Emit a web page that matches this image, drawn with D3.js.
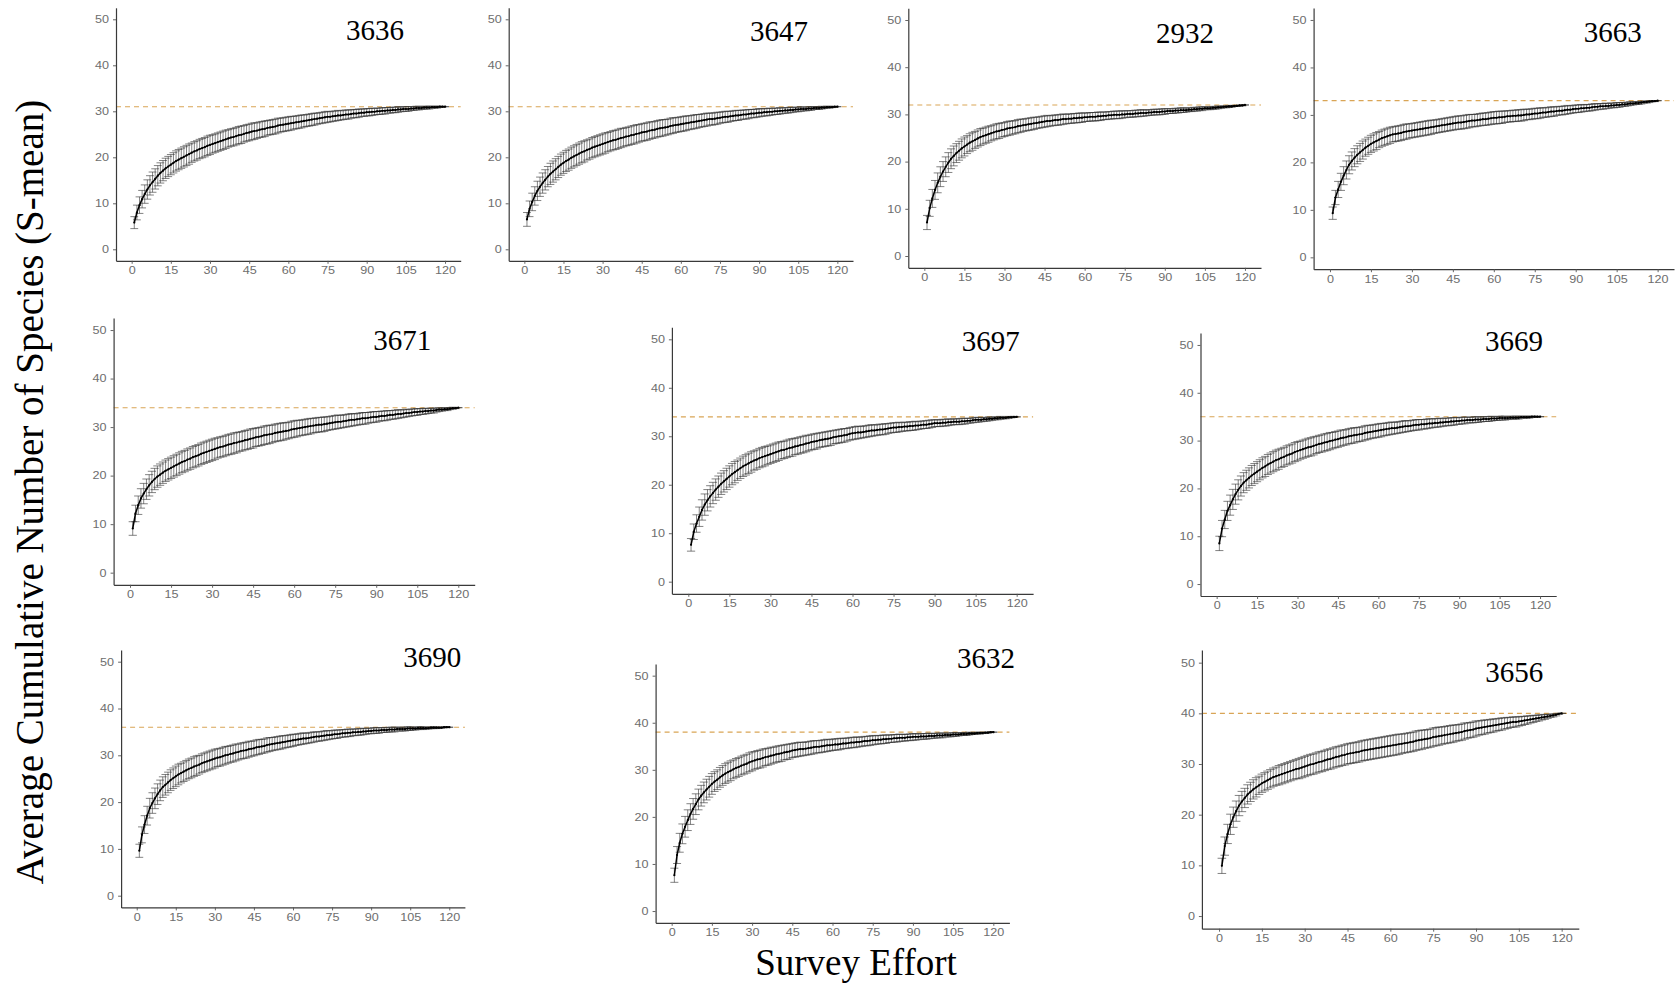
<!DOCTYPE html>
<html>
<head>
<meta charset="utf-8">
<script src="https://cdn.jsdelivr.net/npm/d3@7"></script>
<style>
  html, body { margin: 0; padding: 0; background: #fff; }
  svg { display: block; }
</style>
</head>
<body>
<svg id="chart" width="1675" height="986"></svg>
<script>
// ---------------- DATA ----------------
const sites = ["3636", "3647", "2932", "3663", "3671", "3697", "3669", "3690", "3632", "3656"];
const asymptote = [31, 31, 32, 33, 34, 34, 35, 36, 38, 40];
const effort = d3.range(1, 121);              // survey effort 1..120
const xTicks = [0, 15, 30, 45, 60, 75, 90, 105, 120];
const yTicks = [0, 10, 20, 30, 40, 50];

const mean3636 = [5.8,8.0,9.6,10.9,12.0,13.0,13.9,14.6,15.3,16.0,
16.6,17.1,17.6,18.0,18.4,18.8,19.2,19.5,19.8,20.1,
20.4,20.7,21.0,21.3,21.5,21.8,22.0,22.2,22.5,22.7,
22.9,23.1,23.3,23.5,23.7,23.9,24.1,24.3,24.4,24.6,
24.8,24.9,25.1,25.3,25.4,25.6,25.7,25.8,26.0,26.1,
26.2,26.4,26.5,26.6,26.7,26.9,27.0,27.1,27.2,27.3,
27.4,27.5,27.6,27.7,27.8,27.9,28.0,28.1,28.2,28.3,
28.4,28.5,28.6,28.7,28.8,28.8,28.9,29.0,29.1,29.1,
29.2,29.3,29.3,29.4,29.5,29.5,29.6,29.7,29.7,29.8,
29.8,29.9,29.9,30.0,30.0,30.1,30.1,30.2,30.2,30.3,
30.3,30.4,30.4,30.5,30.5,30.5,30.6,30.6,30.7,30.7,
30.7,30.8,30.8,30.8,30.9,30.9,30.9,31.0,31.0,31.0];
const sd3636 = [1.3,1.6,1.8,1.9,2.0,2.1,2.1,2.2,2.2,2.2,
2.2,2.2,2.2,2.2,2.2,2.2,2.2,2.2,2.2,2.2,
2.2,2.2,2.1,2.1,2.1,2.1,2.1,2.1,2.1,2.1,
2.0,2.0,2.0,2.0,2.0,2.0,1.9,1.9,1.9,1.9,
1.9,1.9,1.8,1.8,1.8,1.8,1.8,1.7,1.7,1.7,
1.7,1.6,1.6,1.6,1.6,1.6,1.5,1.5,1.5,1.5,
1.5,1.4,1.4,1.4,1.4,1.3,1.3,1.3,1.3,1.3,
1.2,1.2,1.2,1.2,1.2,1.1,1.1,1.1,1.1,1.0,
1.0,1.0,1.0,0.9,0.9,0.9,0.9,0.8,0.8,0.8,
0.8,0.8,0.7,0.7,0.7,0.7,0.7,0.6,0.6,0.6,
0.6,0.6,0.5,0.5,0.5,0.5,0.4,0.4,0.4,0.4,
0.3,0.3,0.3,0.3,0.2,0.2,0.2,0.1,0.1,0.0];

const mean3647 = [6.5,8.8,10.3,11.6,12.7,13.6,14.4,15.1,15.8,16.4,
16.9,17.4,17.9,18.4,18.8,19.2,19.5,19.9,20.2,20.5,
20.8,21.1,21.3,21.6,21.8,22.1,22.3,22.5,22.7,22.9,
23.1,23.3,23.5,23.7,23.8,24.0,24.2,24.3,24.5,24.6,
24.8,24.9,25.1,25.2,25.4,25.5,25.6,25.8,25.9,26.0,
26.2,26.3,26.4,26.5,26.6,26.8,26.9,27.0,27.1,27.2,
27.3,27.4,27.5,27.6,27.7,27.8,27.9,28.0,28.1,28.2,
28.3,28.3,28.4,28.5,28.6,28.7,28.8,28.8,28.9,29.0,
29.1,29.1,29.2,29.3,29.3,29.4,29.5,29.5,29.6,29.7,
29.7,29.8,29.8,29.9,29.9,30.0,30.0,30.1,30.1,30.2,
30.2,30.3,30.3,30.4,30.4,30.5,30.5,30.5,30.6,30.6,
30.7,30.7,30.7,30.8,30.8,30.9,30.9,30.9,31.0,31.0];
const sd3647 = [1.5,1.7,1.9,2.0,2.1,2.1,2.2,2.2,2.2,2.3,
2.3,2.3,2.3,2.3,2.3,2.3,2.3,2.3,2.3,2.3,
2.3,2.3,2.3,2.2,2.2,2.2,2.2,2.2,2.2,2.2,
2.2,2.1,2.1,2.1,2.1,2.1,2.1,2.0,2.0,2.0,
2.0,2.0,2.0,1.9,1.9,1.9,1.9,1.9,1.8,1.8,
1.8,1.8,1.8,1.7,1.7,1.7,1.7,1.6,1.6,1.6,
1.6,1.6,1.5,1.5,1.5,1.5,1.4,1.4,1.4,1.4,
1.3,1.3,1.3,1.3,1.2,1.2,1.2,1.2,1.1,1.1,
1.1,1.1,1.0,1.0,1.0,1.0,0.9,0.9,0.9,0.9,
0.8,0.8,0.8,0.8,0.7,0.7,0.7,0.7,0.6,0.6,
0.6,0.6,0.5,0.5,0.5,0.5,0.4,0.4,0.4,0.4,
0.3,0.3,0.3,0.3,0.2,0.2,0.2,0.1,0.1,0.0];

const mean2932 = [7.1,10.1,12.2,14.0,15.5,16.8,17.9,18.9,19.8,20.6,
21.2,21.8,22.3,22.8,23.2,23.6,24.0,24.3,24.6,24.9,
25.2,25.4,25.6,25.8,26.0,26.2,26.4,26.5,26.7,26.8,
27.0,27.1,27.2,27.3,27.5,27.6,27.7,27.8,27.9,28.0,
28.1,28.2,28.3,28.4,28.5,28.6,28.6,28.7,28.8,28.8,
28.9,29.0,29.0,29.1,29.1,29.2,29.2,29.3,29.3,29.4,
29.4,29.5,29.5,29.5,29.6,29.6,29.7,29.7,29.8,29.8,
29.9,29.9,29.9,30.0,30.0,30.1,30.1,30.1,30.2,30.2,
30.3,30.3,30.3,30.4,30.4,30.5,30.5,30.5,30.6,30.6,
30.7,30.7,30.7,30.8,30.8,30.9,30.9,30.9,31.0,31.0,
31.1,31.1,31.2,31.2,31.3,31.3,31.3,31.4,31.4,31.5,
31.5,31.6,31.6,31.7,31.7,31.8,31.8,31.9,31.9,32.0];
const sd2932 = [1.5,1.7,1.9,2.0,2.1,2.1,2.1,2.1,2.1,2.1,
2.1,2.0,2.0,2.0,2.0,1.9,1.9,1.9,1.8,1.8,
1.8,1.7,1.7,1.7,1.6,1.6,1.6,1.6,1.5,1.5,
1.5,1.5,1.4,1.4,1.4,1.4,1.3,1.3,1.3,1.3,
1.3,1.2,1.2,1.2,1.2,1.2,1.1,1.1,1.1,1.1,
1.1,1.1,1.0,1.0,1.0,1.0,1.0,1.0,1.0,0.9,
0.9,0.9,0.9,0.9,0.9,0.9,0.8,0.8,0.8,0.8,
0.8,0.8,0.8,0.8,0.7,0.7,0.7,0.7,0.7,0.7,
0.7,0.7,0.6,0.6,0.6,0.6,0.6,0.6,0.6,0.6,
0.5,0.5,0.5,0.5,0.5,0.5,0.5,0.4,0.4,0.4,
0.4,0.4,0.4,0.4,0.3,0.3,0.3,0.3,0.3,0.3,
0.2,0.2,0.2,0.2,0.2,0.1,0.1,0.1,0.1,0.0];

const mean3663 = [9.3,12.6,14.3,15.9,17.2,18.4,19.5,20.3,21.0,21.6,
22.1,22.6,23.1,23.5,23.9,24.2,24.5,24.8,25.1,25.3,
25.5,25.7,25.9,26.0,26.1,26.2,26.4,26.5,26.6,26.7,
26.8,26.9,27.0,27.1,27.2,27.3,27.4,27.5,27.6,27.7,
27.8,27.9,28.0,28.1,28.2,28.3,28.4,28.4,28.5,28.6,
28.7,28.8,28.8,28.9,29.0,29.1,29.1,29.2,29.3,29.4,
29.4,29.5,29.5,29.6,29.7,29.7,29.8,29.8,29.9,29.9,
30.0,30.1,30.1,30.2,30.3,30.3,30.4,30.5,30.5,30.6,
30.7,30.7,30.8,30.9,30.9,31.0,31.1,31.1,31.2,31.3,
31.3,31.4,31.4,31.5,31.5,31.6,31.7,31.7,31.8,31.8,
31.9,31.9,32.0,32.0,32.1,32.1,32.2,32.2,32.3,32.4,
32.4,32.5,32.5,32.6,32.7,32.7,32.8,32.9,32.9,33.0];
const sd3663 = [1.3,1.5,1.7,1.8,1.9,1.9,1.9,1.9,1.9,1.9,
1.9,1.9,1.8,1.8,1.8,1.8,1.8,1.7,1.7,1.7,
1.7,1.7,1.6,1.6,1.6,1.6,1.6,1.6,1.5,1.5,
1.5,1.5,1.5,1.5,1.5,1.5,1.5,1.4,1.4,1.4,
1.4,1.4,1.4,1.4,1.4,1.4,1.4,1.4,1.4,1.4,
1.4,1.3,1.3,1.3,1.3,1.3,1.3,1.3,1.3,1.3,
1.3,1.3,1.3,1.2,1.2,1.2,1.2,1.2,1.2,1.2,
1.2,1.1,1.1,1.1,1.1,1.1,1.1,1.0,1.0,1.0,
1.0,1.0,0.9,0.9,0.9,0.9,0.9,0.8,0.8,0.8,
0.8,0.8,0.7,0.7,0.7,0.7,0.7,0.6,0.6,0.6,
0.6,0.5,0.5,0.5,0.5,0.5,0.4,0.4,0.4,0.4,
0.3,0.3,0.3,0.3,0.2,0.2,0.2,0.1,0.1,0.0];

const mean3671 = [9.1,12.2,13.9,15.3,16.3,17.2,18.0,18.7,19.3,19.8,
20.2,20.6,21.0,21.3,21.6,21.9,22.2,22.5,22.8,23.0,
23.3,23.5,23.8,24.0,24.2,24.5,24.7,24.9,25.1,25.3,
25.5,25.7,25.9,26.0,26.2,26.4,26.5,26.7,26.8,27.0,
27.1,27.3,27.4,27.6,27.7,27.9,28.0,28.1,28.3,28.4,
28.5,28.6,28.8,28.9,29.0,29.1,29.2,29.3,29.5,29.6,
29.7,29.8,29.9,30.0,30.1,30.2,30.3,30.4,30.5,30.5,
30.6,30.7,30.8,30.9,31.0,31.1,31.1,31.2,31.3,31.4,
31.5,31.5,31.6,31.7,31.8,31.8,31.9,32.0,32.1,32.1,
32.2,32.3,32.3,32.4,32.5,32.5,32.6,32.7,32.7,32.8,
32.9,32.9,33.0,33.1,33.1,33.2,33.2,33.3,33.3,33.4,
33.4,33.5,33.6,33.6,33.7,33.7,33.8,33.9,33.9,34.0];
const sd3671 = [1.4,1.7,1.9,2.0,2.1,2.1,2.2,2.2,2.2,2.2,
2.2,2.2,2.2,2.2,2.2,2.2,2.2,2.2,2.2,2.2,
2.2,2.2,2.2,2.2,2.2,2.2,2.2,2.2,2.2,2.2,
2.2,2.1,2.1,2.1,2.1,2.1,2.1,2.1,2.1,2.0,
2.0,2.0,2.0,2.0,2.0,1.9,1.9,1.9,1.9,1.9,
1.9,1.8,1.8,1.8,1.8,1.8,1.7,1.7,1.7,1.7,
1.7,1.6,1.6,1.6,1.6,1.6,1.5,1.5,1.5,1.5,
1.5,1.4,1.4,1.4,1.4,1.4,1.3,1.3,1.3,1.3,
1.3,1.2,1.2,1.2,1.2,1.2,1.1,1.1,1.1,1.1,
1.0,1.0,1.0,1.0,0.9,0.9,0.9,0.9,0.8,0.8,
0.8,0.7,0.7,0.7,0.7,0.6,0.6,0.6,0.5,0.5,
0.5,0.4,0.4,0.3,0.3,0.3,0.2,0.2,0.1,0.0];

const mean3697 = [7.6,10.3,12.0,13.4,14.8,15.9,16.8,17.6,18.3,19.0,
19.6,20.2,20.7,21.2,21.7,22.2,22.6,23.0,23.4,23.8,
24.1,24.4,24.7,25.0,25.2,25.5,25.7,25.9,26.1,26.3,
26.5,26.7,26.9,27.1,27.2,27.4,27.6,27.7,27.9,28.0,
28.2,28.3,28.5,28.6,28.8,28.9,29.0,29.2,29.3,29.4,
29.5,29.6,29.8,29.9,30.0,30.1,30.2,30.3,30.5,30.6,
30.7,30.8,30.8,30.9,31.0,31.1,31.2,31.2,31.3,31.4,
31.4,31.5,31.6,31.7,31.8,31.8,31.9,31.9,32.0,32.0,
32.1,32.1,32.2,32.2,32.3,32.4,32.4,32.5,32.6,32.7,
32.7,32.7,32.8,32.8,32.9,32.9,33.0,33.0,33.0,33.1,
33.1,33.2,33.2,33.3,33.4,33.4,33.4,33.5,33.5,33.6,
33.6,33.7,33.7,33.8,33.8,33.8,33.9,33.9,34.0,34.0];
const sd3697 = [1.3,1.6,1.8,2.0,2.1,2.2,2.2,2.2,2.2,2.2,
2.2,2.2,2.2,2.2,2.2,2.2,2.2,2.1,2.1,2.1,
2.1,2.1,2.1,2.0,2.0,2.0,2.0,2.0,1.9,1.9,
1.9,1.9,1.9,1.8,1.8,1.8,1.8,1.8,1.7,1.7,
1.7,1.7,1.7,1.6,1.6,1.6,1.6,1.5,1.5,1.5,
1.5,1.5,1.4,1.4,1.4,1.4,1.4,1.3,1.3,1.3,
1.3,1.3,1.2,1.2,1.2,1.2,1.2,1.1,1.1,1.1,
1.1,1.1,1.0,1.0,1.0,1.0,1.0,0.9,0.9,0.9,
0.9,0.9,0.9,0.8,0.8,0.8,0.8,0.8,0.8,0.7,
0.7,0.7,0.7,0.7,0.7,0.6,0.6,0.6,0.6,0.6,
0.6,0.5,0.5,0.5,0.5,0.5,0.4,0.4,0.4,0.4,
0.3,0.3,0.3,0.3,0.2,0.2,0.2,0.1,0.1,0.0];

const mean3669 = [8.5,11.6,13.5,15.3,16.5,17.7,18.8,19.7,20.5,21.2,
21.7,22.2,22.7,23.1,23.5,23.9,24.3,24.6,25.0,25.3,
25.6,25.9,26.1,26.4,26.6,26.9,27.1,27.3,27.6,27.8,
28.0,28.2,28.4,28.6,28.7,28.9,29.1,29.3,29.4,29.6,
29.7,29.9,30.0,30.2,30.3,30.5,30.6,30.7,30.9,31.0,
31.1,31.2,31.3,31.4,31.6,31.7,31.8,31.9,32.0,32.1,
32.2,32.3,32.4,32.5,32.6,32.6,32.7,32.8,32.9,33.0,
33.0,33.1,33.2,33.3,33.3,33.4,33.4,33.5,33.6,33.6,
33.7,33.7,33.8,33.8,33.9,33.9,34.0,34.0,34.1,34.1,
34.2,34.2,34.3,34.3,34.3,34.4,34.4,34.4,34.5,34.5,
34.5,34.6,34.6,34.6,34.7,34.7,34.7,34.7,34.8,34.8,
34.8,34.8,34.9,34.9,34.9,34.9,35.0,35.0,35.0,35.0];
const sd3669 = [1.5,1.7,1.9,2.0,2.1,2.1,2.1,2.1,2.1,2.1,
2.1,2.1,2.1,2.1,2.1,2.1,2.1,2.1,2.1,2.1,
2.1,2.1,2.1,2.0,2.0,2.0,2.0,2.0,2.0,2.0,
1.9,1.9,1.9,1.9,1.9,1.9,1.8,1.8,1.8,1.8,
1.8,1.8,1.7,1.7,1.7,1.7,1.6,1.6,1.6,1.6,
1.6,1.5,1.5,1.5,1.5,1.5,1.4,1.4,1.4,1.4,
1.4,1.3,1.3,1.3,1.3,1.2,1.2,1.2,1.2,1.2,
1.1,1.1,1.1,1.1,1.1,1.0,1.0,1.0,1.0,0.9,
0.9,0.9,0.9,0.8,0.8,0.8,0.8,0.8,0.7,0.7,
0.7,0.7,0.6,0.6,0.6,0.6,0.6,0.5,0.5,0.5,
0.5,0.5,0.4,0.4,0.4,0.4,0.4,0.3,0.3,0.3,
0.3,0.3,0.2,0.2,0.2,0.2,0.1,0.1,0.1,0.0];

const mean3690 = [9.6,13.0,15.2,17.1,18.7,19.8,20.8,21.7,22.5,23.2,
23.7,24.2,24.7,25.1,25.5,25.9,26.2,26.5,26.8,27.1,
27.3,27.6,27.8,28.0,28.3,28.5,28.7,28.9,29.1,29.3,
29.5,29.6,29.8,30.0,30.1,30.3,30.4,30.6,30.7,30.9,
31.0,31.1,31.3,31.4,31.5,31.7,31.8,31.9,32.0,32.2,
32.3,32.4,32.5,32.6,32.7,32.8,32.9,33.0,33.1,33.2,
33.3,33.4,33.5,33.6,33.6,33.7,33.8,33.9,34.0,34.0,
34.1,34.2,34.3,34.3,34.4,34.5,34.5,34.6,34.7,34.7,
34.8,34.8,34.9,34.9,35.0,35.0,35.1,35.1,35.2,35.2,
35.3,35.3,35.3,35.4,35.4,35.4,35.5,35.5,35.5,35.6,
35.6,35.6,35.6,35.7,35.7,35.7,35.7,35.8,35.8,35.8,
35.8,35.8,35.9,35.9,35.9,35.9,35.9,36.0,36.0,36.0];
const sd3690 = [1.4,1.7,1.9,2.0,2.1,2.2,2.2,2.2,2.2,2.2,
2.2,2.2,2.2,2.2,2.2,2.2,2.1,2.1,2.1,2.1,
2.1,2.1,2.1,2.0,2.0,2.0,2.0,2.0,2.0,2.0,
1.9,1.9,1.9,1.9,1.8,1.8,1.8,1.8,1.7,1.7,
1.7,1.7,1.7,1.6,1.6,1.6,1.6,1.5,1.5,1.5,
1.5,1.4,1.4,1.4,1.4,1.4,1.3,1.3,1.3,1.3,
1.2,1.2,1.2,1.2,1.1,1.1,1.1,1.1,1.0,1.0,
1.0,1.0,1.0,0.9,0.9,0.9,0.9,0.8,0.8,0.8,
0.8,0.8,0.7,0.7,0.7,0.7,0.7,0.6,0.6,0.6,
0.6,0.6,0.6,0.5,0.5,0.5,0.5,0.5,0.5,0.4,
0.4,0.4,0.4,0.4,0.4,0.3,0.3,0.3,0.3,0.3,
0.2,0.2,0.2,0.2,0.2,0.1,0.1,0.1,0.1,0.0];

const mean3632 = [7.6,11.9,14.5,16.4,17.9,19.3,20.6,21.7,22.7,23.7,
24.5,25.2,25.8,26.4,27.0,27.5,27.9,28.4,28.8,29.2,
29.5,29.8,30.1,30.4,30.6,30.9,31.1,31.3,31.6,31.8,
32.0,32.2,32.3,32.5,32.7,32.8,33.0,33.1,33.3,33.4,
33.5,33.7,33.8,33.9,34.1,34.2,34.3,34.4,34.4,34.5,
34.6,34.7,34.8,34.9,34.9,35.0,35.1,35.2,35.2,35.3,
35.4,35.4,35.5,35.6,35.6,35.7,35.8,35.8,35.9,35.9,
36.0,36.1,36.1,36.2,36.3,36.3,36.4,36.4,36.5,36.5,
36.6,36.6,36.7,36.7,36.8,36.8,36.8,36.9,36.9,37.0,
37.0,37.0,37.1,37.1,37.1,37.2,37.2,37.2,37.3,37.3,
37.3,37.4,37.4,37.4,37.5,37.5,37.5,37.6,37.6,37.6,
37.7,37.7,37.7,37.8,37.8,37.8,37.9,37.9,38.0,38.0];
const sd3632 = [1.5,1.8,2.0,2.1,2.2,2.2,2.2,2.2,2.2,2.2,
2.2,2.2,2.2,2.2,2.2,2.1,2.1,2.1,2.1,2.1,
2.1,2.1,2.0,2.0,2.0,2.0,2.0,2.0,2.0,2.0,
1.9,1.9,1.9,1.9,1.8,1.8,1.8,1.7,1.7,1.7,
1.7,1.6,1.6,1.6,1.5,1.5,1.5,1.5,1.4,1.4,
1.4,1.4,1.4,1.3,1.3,1.3,1.3,1.3,1.2,1.2,
1.2,1.2,1.2,1.1,1.1,1.1,1.1,1.1,1.1,1.0,
1.0,1.0,1.0,1.0,1.0,0.9,0.9,0.9,0.9,0.9,
0.8,0.8,0.8,0.8,0.8,0.7,0.7,0.7,0.7,0.7,
0.7,0.6,0.6,0.6,0.6,0.6,0.5,0.5,0.5,0.5,
0.5,0.4,0.4,0.4,0.4,0.4,0.3,0.3,0.3,0.3,
0.3,0.2,0.2,0.2,0.2,0.1,0.1,0.1,0.1,0.0];

const mean3656 = [9.9,13.8,16.2,18.1,19.5,20.7,21.8,22.6,23.3,24.0,
24.5,25.0,25.4,25.8,26.2,26.5,26.8,27.1,27.4,27.6,
27.8,28.0,28.2,28.4,28.6,28.8,29.0,29.1,29.3,29.5,
29.7,29.9,30.0,30.2,30.4,30.5,30.7,30.9,31.0,31.2,
31.4,31.5,31.7,31.8,32.0,32.1,32.2,32.3,32.4,32.6,
32.7,32.8,32.9,33.0,33.1,33.2,33.3,33.4,33.5,33.6,
33.7,33.8,33.9,34.0,34.1,34.2,34.3,34.4,34.6,34.7,
34.8,34.9,35.0,35.1,35.3,35.4,35.5,35.6,35.7,35.8,
35.9,36.0,36.1,36.2,36.3,36.5,36.6,36.7,36.8,37.0,
37.1,37.2,37.3,37.4,37.5,37.6,37.7,37.8,37.9,38.0,
38.1,38.2,38.3,38.3,38.4,38.5,38.6,38.7,38.8,38.9,
39.0,39.1,39.2,39.3,39.4,39.5,39.6,39.7,39.9,40.0];
const sd3656 = [1.5,1.8,1.9,2.0,2.0,2.0,2.0,2.0,1.9,1.9,
1.9,1.9,1.9,1.8,1.8,1.8,1.8,1.8,1.8,1.8,
1.9,1.9,1.9,1.9,1.9,1.9,1.9,2.0,2.0,2.0,
2.0,2.0,2.0,2.0,2.0,2.0,2.0,2.0,2.0,2.0,
2.0,2.0,2.0,2.0,2.0,2.0,2.0,2.0,2.0,2.0,
2.0,2.0,2.0,2.0,2.0,2.0,2.0,2.0,2.0,2.0,
2.0,2.0,2.0,1.9,1.9,1.9,1.9,1.9,1.9,1.9,
1.9,1.8,1.8,1.8,1.8,1.8,1.8,1.7,1.7,1.7,
1.7,1.7,1.6,1.6,1.6,1.6,1.5,1.5,1.5,1.5,
1.4,1.4,1.4,1.3,1.3,1.3,1.2,1.2,1.2,1.1,
1.1,1.0,1.0,1.0,0.9,0.9,0.8,0.8,0.7,0.7,
0.6,0.6,0.5,0.5,0.4,0.3,0.3,0.2,0.1,0.0];

const means = [mean3636, mean3647, mean2932, mean3663, mean3671, mean3697, mean3669, mean3690, mean3632, mean3656];
const sds   = [sd3636, sd3647, sd2932, sd3663, sd3671, sd3697, sd3669, sd3690, sd3632, sd3656];

// ---------------- LAYOUT (pixel frames of each panel) ----------------
const layout = [
  {l: 116.0,  t: 7.8,   r: 460.7,  b: 260.8, tx: 375,    ty: 40},
  {l: 508.7,  t: 7.8,   r: 853.0,  b: 260.8, tx: 779,    ty: 40.7},
  {l: 908.3,  t: 8.2,   r: 1261.0, b: 267.8, tx: 1185,   ty: 42.7},
  {l: 1313.6, t: 8.1,   r: 1674.0, b: 269.2, tx: 1612.7, ty: 42.3},
  {l: 113.6,  t: 317.9, r: 474.7,  b: 584.8, tx: 402.3,  ty: 350},
  {l: 671.9,  t: 327.2, r: 1033.1, b: 593.8, tx: 990.7,  ty: 350.7},
  {l: 1200.5, t: 333.0, r: 1556.2, b: 596.0, tx: 1514,   ty: 350.7},
  {l: 121.1,  t: 650.0, r: 464.9,  b: 907.4, tx: 432.3,  ty: 667.3},
  {l: 655.6,  t: 663.9, r: 1009.4, b: 922.8, tx: 986,    ty: 668.3},
  {l: 1201.9, t: 650.0, r: 1578.8, b: 928.7, tx: 1514.3, ty: 681.7}
];

const xDomain = [-6, 126];
const yDomain = [-2.5, 52.5];
const capHalf = 1.5;          // error bar cap half width (effort units)
const tickStretch = 1.2;      // source panels were stretched horizontally

const svg = d3.select("#chart");
svg.append("rect").attr("width", 1675).attr("height", 986).attr("fill", "#fff");

function stretchText(sel) {
  sel.each(function () {
    const w = this.getComputedTextLength();
    d3.select(this).attr("textLength", w * tickStretch).attr("lengthAdjust", "spacingAndGlyphs");
  });
}

sites.forEach((site, i) => {
  const L = layout[i];
  const x = d3.scaleLinear().domain(xDomain).range([L.l, L.r]);
  const y = d3.scaleLinear().domain(yDomain).range([L.b, L.t]);
  const g = svg.append("g").attr("class", "panel");
  const rows = effort.map((e, k) => ({x: e, m: means[i][k], s: sds[i][k]}));

  // asymptote dashed line
  g.append("line")
    .attr("x1", L.l).attr("x2", L.r)
    .attr("y1", y(asymptote[i])).attr("y2", y(asymptote[i]))
    .attr("stroke", "#d9a556").attr("stroke-width", 1.1)
    .attr("stroke-dasharray", "5,4");

  // error bars
  const eb = g.append("g").attr("stroke", "#2e2e2e").attr("stroke-width", 0.7).attr("stroke-opacity", 0.85);
  eb.selectAll("line.v").data(rows).join("line").attr("class", "v")
    .attr("x1", d => x(d.x)).attr("x2", d => x(d.x))
    .attr("y1", d => y(d.m - d.s)).attr("y2", d => y(d.m + d.s));
  eb.selectAll("line.ct").data(rows).join("line").attr("class", "ct")
    .attr("x1", d => x(d.x - capHalf)).attr("x2", d => x(d.x + capHalf))
    .attr("y1", d => y(d.m + d.s)).attr("y2", d => y(d.m + d.s));
  eb.selectAll("line.cb").data(rows).join("line").attr("class", "cb")
    .attr("x1", d => x(d.x - capHalf)).attr("x2", d => x(d.x + capHalf))
    .attr("y1", d => y(d.m - d.s)).attr("y2", d => y(d.m - d.s));

  // mean line + points
  g.append("path").datum(rows)
    .attr("fill", "none").attr("stroke", "#000").attr("stroke-width", 1.5)
    .attr("d", d3.line().x(d => x(d.x)).y(d => y(d.m)));
  g.selectAll("circle").data(rows).join("circle")
    .attr("cx", d => x(d.x)).attr("cy", d => y(d.m)).attr("r", 1.1).attr("fill", "#000");

  // axes
  const ax = g.append("g").attr("transform", `translate(0,${L.b})`)
    .call(d3.axisBottom(x).tickValues(xTicks).tickSize(3).tickSizeOuter(0).tickPadding(3));
  const ay = g.append("g").attr("transform", `translate(${L.l},0)`)
    .call(d3.axisLeft(y).tickValues(yTicks).tickSize(3).tickSizeOuter(0).tickPadding(4));
  [ax, ay].forEach(a => {
    a.select(".domain").attr("stroke", "#3a3a3a").attr("stroke-width", 1.2);
    a.selectAll(".tick line").attr("stroke", "#555").attr("stroke-width", 0.9);
    a.selectAll(".tick text")
      .attr("fill", "#6e6e6e")
      .style("font-family", "'Liberation Sans', Arial, sans-serif")
      .style("font-size", "10.5px");
    stretchText(a.selectAll(".tick text"));
  });

  // panel title
  g.append("text")
    .attr("x", L.tx).attr("y", L.ty)
    .attr("text-anchor", "middle")
    .style("font-family", "'Liberation Serif', 'Times New Roman', serif")
    .style("font-size", "29px")
    .attr("fill", "#000")
    .text(site);
});

// shared axis titles
svg.append("text")
  .attr("transform", "translate(43,492) rotate(-90)")
  .attr("text-anchor", "middle")
  .style("font-family", "'Liberation Serif', 'Times New Roman', serif")
  .style("font-size", "39px")
  .attr("fill", "#000")
  .text("Average Cumulative Number of Species (S-mean)");

svg.append("text")
  .attr("x", 856).attr("y", 975)
  .attr("text-anchor", "middle")
  .style("font-family", "'Liberation Serif', 'Times New Roman', serif")
  .style("font-size", "37px")
  .attr("fill", "#000")
  .text("Survey Effort");
</script>
</body>
</html>
